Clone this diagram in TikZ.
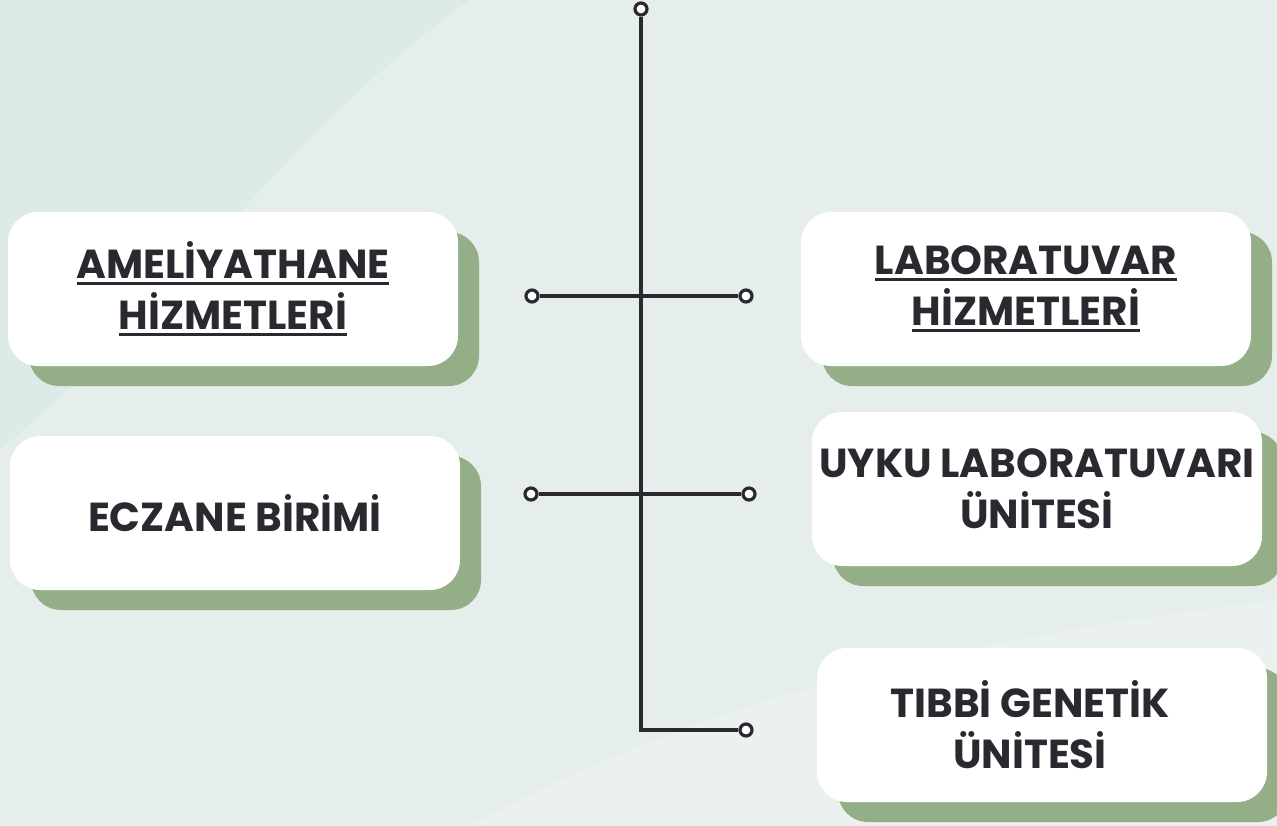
\documentclass[tikz,border=0pt]{standalone}
\usepackage{fontspec}
\setmainfont{Poppins}
\usetikzlibrary{shadows}

\definecolor{pagebg}{HTML}{E6EEEC}
\definecolor{mistteal}{HTML}{D6E9E6}
\definecolor{leafgreen}{HTML}{94AE88}
\definecolor{inkline}{HTML}{2A2930}

% underline with a thick rule, as in the titles
\newcommand\ulword[1]{\sbox0{#1}\usebox0\llap{\rule[-6pt]{\wd0}{2.8pt}}}

\begin{document}
\begin{tikzpicture}[x=1pt, y=-1pt,
    unitbox/.style={fill=white, rounded corners=30pt, minimum width=450pt,
      minimum height=154pt, text=inkline, align=center, inner sep=2pt,
      font=\bfseries\fontsize{40.5}{51}\selectfont,
      drop shadow={shadow xshift=21pt, shadow yshift=-20pt, fill=leafgreen, opacity=1}},
    pin/.style={circle, draw=inkline, fill=white, line width=3.2pt,
      minimum size=12pt, inner sep=0pt},
    stem/.style={draw=inkline, line width=3.5pt}]
      % page and soft background
      \useasboundingbox (0,0) rectangle (1277,826);
      \fill[pagebg] (0,0) rectangle (1277,826);
      \fill[mistteal, opacity=0.5] (0,0) -- (470,0) .. controls (300,120) and (180,300) .. (0,450) -- cycle;
      \fill[white, opacity=0.18] (470,826) .. controls (700,700) and (950,640) .. (1277,600) -- (1277,826) -- cycle;

      % left column
      \node[unitbox] (surgery) at (233,289) {\ulword{AMELİYATHANE}\\ \ulword{HİZMETLERİ}};
      \node[unitbox] (pharmacy) at (235,513) {ECZANE BİRİMİ};

      % right column
      \node[unitbox] (lab) at (1026,289) {\ulword{LABORATUVAR}\\ \ulword{HİZMETLERİ}};
      \node[unitbox] (sleeplab) at (1037,489) {UYKU LABORATUVARI\\ ÜNİTESİ};
      \node[unitbox] (genetics) at (1042,725) {TIBBİ GENETİK\hspace*{24pt}\\ ÜNİTESİ\hspace*{24pt}};

      % timeline pins
      \node[pin] (top) at (641,9) {};
      \node[pin] (leftA) at (532,296) {};
      \node[pin] (rightA) at (746,296) {};
      \node[pin] (leftB) at (531,494) {};
      \node[pin] (rightB) at (749,494) {};
      \node[pin] (end) at (746,730) {};
      \coordinate (corner) at (641,730);

      % timeline
      \draw[stem] (top) -- (corner) -- (end);
      \draw[stem] (leftA) -- (rightA);
      \draw[stem] (leftB) -- (rightB);
\end{tikzpicture}
\end{document}
